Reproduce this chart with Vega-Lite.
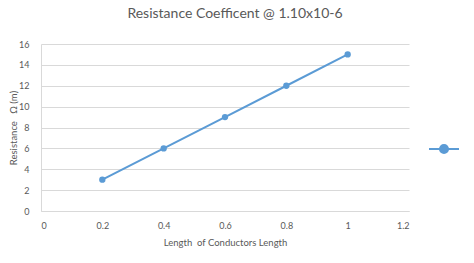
{
  "$schema": "https://vega.github.io/schema/vega-lite/v6.json",
  "width": 368,
  "height": 167,
  "autosize": {"type": "none"},
  "padding": {"left": 41, "top": 44, "right": 65, "bottom": 52},
  "background": "white",
  "config": {
    "view": {"stroke": null},
    "font": "Lato",
    "axis": {"labelColor": "#595959", "titleColor": "#595959", "labelFont": "Lato", "titleFont": "Lato", "labelFontSize": 9, "titleFontSize": 9.5, "titleFontWeight": "normal"}
  },
  "title": {
    "text": "Resistance Coefficent @ 1.10x10-6",
    "font": "Lato",
    "fontSize": 14,
    "fontWeight": "normal",
    "color": "#595959",
    "anchor": "middle",
    "dx": 10,
    "offset": 19
  },
  "data": {
    "values": [
      {"length": 0.2, "resistance": 3, "series": "s"},
      {"length": 0.4, "resistance": 6, "series": "s"},
      {"length": 0.6, "resistance": 9, "series": "s"},
      {"length": 0.8, "resistance": 12, "series": "s"},
      {"length": 1.0, "resistance": 15, "series": "s"}
    ]
  },
  "mark": {"type": "line", "strokeWidth": 2, "point": {"filled": true, "size": 40}},
  "encoding": {
    "x": {
      "field": "length", "type": "quantitative",
      "scale": {"domain": [0, 1.2], "nice": false},
      "axis": {"values": [0, 0.2, 0.4, 0.6, 0.8, 1, 1.2], "format": "~g", "grid": false, "ticks": false, "domainColor": "#d9d9d9", "labelPadding": 10, "title": "Length\u00a0 of Conductors Length", "titlePadding": 7}
    },
    "y": {
      "field": "resistance", "type": "quantitative",
      "scale": {"domain": [0, 16], "nice": false},
      "axis": {"values": [0, 2, 4, 6, 8, 10, 12, 14, 16], "grid": true, "gridColor": "#d9d9d9", "ticks": false, "domainColor": "#d9d9d9", "labelPadding": 12, "title": "Resistance\u00a0\u00a0 Ω (m)", "titlePadding": 0}
    },
    "color": {
      "field": "series", "type": "nominal",
      "scale": {"range": ["#5B9BD5"]},
      "legend": {
        "title": null,
        "orient": "none",
        "legendX": 387,
        "legendY": 89,
        "padding": 0,
        "labelExpr": "''",
        "symbolType": "M-1,0L1,0M-0.27,0A0.27,0.27 0 1,1 0.27,0A0.27,0.27 0 1,1 -0.27,0Z",
        "symbolSize": 900,
        "symbolStrokeWidth": 2,
        "symbolFillColor": "#5B9BD5",
        "symbolStrokeColor": "#5B9BD5"
      }
    }
  }
}
